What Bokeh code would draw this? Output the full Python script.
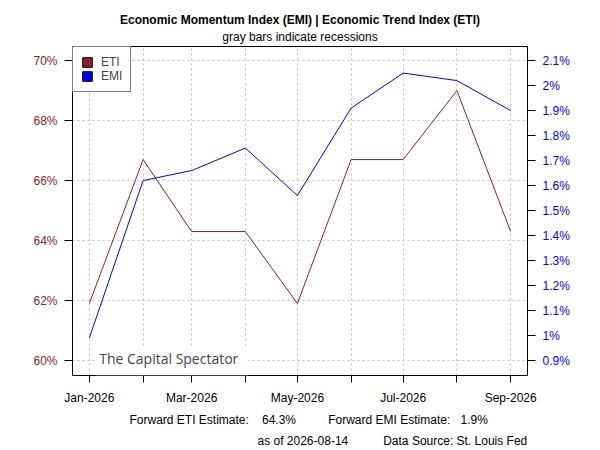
import pandas as pd
from bokeh.plotting import figure
from bokeh.layouts import column
from bokeh.models import (Range1d, LinearAxis, FixedTicker, Label, BoxAnnotation,
                          Legend, LegendItem)
from bokeh.embed import file_html
from bokeh.resources import INLINE

# ---- data ----
dates = ["2026-01-01", "2026-02-01", "2026-03-01", "2026-04-01", "2026-05-01",
         "2026-06-01", "2026-07-01", "2026-08-01", "2026-09-01"]
eti = [61.9, 66.7, 64.3, 64.3, 61.9, 66.7, 66.7, 69.0, 64.3]
emi = [0.99, 1.62, 1.66, 1.75, 1.56, 1.91, 2.05, 2.02, 1.90]
left_ticks = [60, 62, 64, 66, 68, 70]
right_ticks = [0.9, 1.0, 1.1, 1.2, 1.3, 1.4, 1.5, 1.6, 1.7, 1.8, 1.9, 2.0, 2.1]
title_text = "Economic Momentum Index (EMI) | Economic Trend Index (ETI)"
subtitle_text = "gray bars indicate recessions"
fwd_eti = "64.3%"
fwd_emi = "1.9%"
asof_text = "as of 2026-08-14"
source_text = "Data Source: St. Louis Fed"
watermark = "The Capital Spectator"

ETI_COL = "#8B2323"
EMI_COL = "#0000FF"
FONT = "Liberation Sans"
W = 600
BL, BR = 72, 73          # side borders shared by all stacked figures

dt = pd.to_datetime(dates)
xs = [(d - pd.Timestamp("1970-01-01")) / pd.Timedelta(milliseconds=1) for d in dt]
span = xs[-1] - xs[0]


def blank(h, y0):
    f = figure(width=W, height=h, output_backend="svg", toolbar_location=None,
               x_range=Range1d(BL, W - BR), y_range=Range1d(start=y0 + h, end=y0),
               x_axis_type=None, y_axis_type=None,
               min_border_left=BL, min_border_right=BR,
               min_border_top=0, min_border_bottom=0)
    f.outline_line_color = None
    f.grid.visible = False
    f.background_fill_color = "white"
    f.border_fill_color = "white"
    return f


def lab(f, x, y, t, bold=False, align="left"):
    f.add_layout(Label(x=x, y=y, text=t, text_font=FONT, text_font_size="12px",
                       text_color="black",
                       text_font_style="bold" if bold else "normal",
                       text_align=align, text_baseline="middle"))


# ---- header ----
top = blank(44, 0)
lab(top, 299.5, 19, title_text, bold=True, align="center")
lab(top, 299.5, 36.7, subtitle_text, align="center")

# ---- main chart ----
p = figure(width=W, height=364, x_axis_type="datetime", output_backend="svg",
           toolbar_location=None, title=None,
           x_range=Range1d(xs[0] - 0.04 * span, xs[-1] + 0.04 * span),
           y_range=Range1d(59.5, 70.47),
           min_border_left=BL, min_border_right=BR, min_border_top=2,
           min_border_bottom=33)
p.extra_y_ranges = {"emi": Range1d(0.9 + (59.5 - 60) * 0.12, 0.9 + (70.47 - 60) * 0.12)}
p.outline_line_color = "black"
p.outline_line_width = 1
p.background_fill_color = "white"
p.border_fill_color = "white"

xt = FixedTicker(ticks=xs)
xa = p.xaxis[0]
xa.ticker = xt
xa.major_label_overrides = {x: (d.strftime("%b-%Y") if i % 2 == 0 else "")
                            for i, (x, d) in enumerate(zip(xs, dt))}
xa.major_tick_out = 7
xa.major_tick_in = 0
xa.minor_tick_line_color = None
xa.axis_line_color = None
xa.major_label_standoff = 8
xa.major_label_text_font = FONT
xa.major_label_text_font_size = "12px"
xa.major_label_text_color = "black"
xa.major_tick_line_color = "black"

ya = p.yaxis[0]
ya.ticker = FixedTicker(ticks=left_ticks)
ya.major_label_overrides = {t: f"{t}%" for t in left_ticks}
ya.major_tick_out = 8
ya.major_tick_in = 0
ya.minor_tick_line_color = None
ya.axis_line_color = None
ya.major_label_standoff = 7
ya.major_label_text_font = FONT
ya.major_label_text_font_size = "12px"
ya.major_label_text_color = ETI_COL
ya.major_tick_line_color = "black"

ra = LinearAxis(y_range_name="emi", ticker=FixedTicker(ticks=right_ticks))
ra.major_label_overrides = {t: f"{t:g}%" for t in right_ticks}
ra.major_tick_out = 8
ra.major_tick_in = 0
ra.minor_tick_line_color = None
ra.axis_line_color = None
ra.major_label_standoff = 7
ra.major_label_text_font = FONT
ra.major_label_text_font_size = "12px"
ra.major_label_text_color = EMI_COL
ra.major_tick_line_color = "black"
p.add_layout(ra, "right")

p.xgrid.ticker = xt
p.ygrid.ticker = FixedTicker(ticks=left_ticks)
for g in (p.xgrid[0], p.ygrid[0]):
    g.grid_line_color = "#BEBEBE"
    g.grid_line_dash = "2 3"
    g.grid_line_width = 1

p.line(xs, eti, line_color=ETI_COL, line_width=1)
p.line(xs, emi, line_color=EMI_COL, line_width=1, y_range_name="emi")

nan = float("nan")
q1 = p.quad(left=[nan], right=[nan], top=[nan], bottom=[nan],
            fill_color=ETI_COL, line_color="black")
q2 = p.quad(left=[nan], right=[nan], top=[nan], bottom=[nan],
            fill_color=EMI_COL, line_color="black")
leg = Legend(items=[LegendItem(label="ETI", renderers=[q1]),
                    LegendItem(label="EMI", renderers=[q2])],
             location="top_left", margin=0, padding=8, spacing=0,
             glyph_width=12, glyph_height=12, label_height=14, label_standoff=8,
             label_text_font=FONT, label_text_font_size="12px",
             border_line_color="black", border_line_width=1,
             background_fill_color="white", background_fill_alpha=1)
p.add_layout(leg)

p.add_layout(BoxAnnotation(left=23, right=175, bottom=0, top=28,
                           left_units="screen", right_units="screen",
                           bottom_units="screen", top_units="screen",
                           fill_color="white", fill_alpha=1, line_color=None))
p.add_layout(Label(x=26.7, y=17, x_units="screen", y_units="screen", text=watermark,
                   text_font="Open Sans", text_font_size="14px", text_color="#454545",
                   text_baseline="middle", text_align="left"))

# ---- footer ----
bot = blank(42, 408)
lab(bot, 129, 419.3, "Forward ETI Estimate:")
lab(bot, 261.5, 419.3, fwd_eti)
lab(bot, 327.7, 419.3, "Forward EMI Estimate:")
lab(bot, 460, 419.3, fwd_emi)
lab(bot, 257, 440.2, asof_text)
lab(bot, 382.7, 440.2, source_text)

layout = column(top, p, bot, spacing=0)
open("out.html", "w").write(file_html(layout, INLINE))
